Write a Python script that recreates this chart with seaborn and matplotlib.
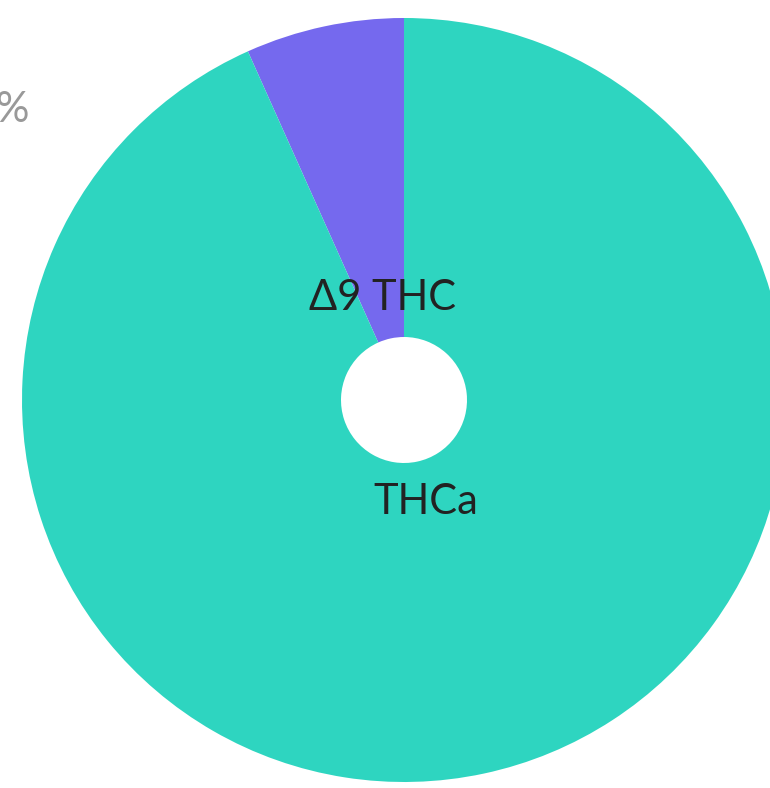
import matplotlib
matplotlib.use("Agg")
import matplotlib.pyplot as plt
import seaborn as sns

sns.set_theme(style="white")
plt.rcParams['font.family'] = ['Lato', 'DejaVu Sans']

categories = ["Δ9 THC", "THCa"]
values = [6.7, 93.3]
colors = ["#7569EE", "#2ED5C0"]

W, H = 770, 788
fig = plt.figure(figsize=(W / 100, H / 100), dpi=100)
cx, cy, R = 404, 388, 382
ax = fig.add_axes([(cx - R) / W, (cy - R) / H, 2 * R / W, 2 * R / H])
wedges, texts = ax.pie(values, labels=categories, colors=colors, startangle=90,
                       counterclock=True, radius=1.0, labeldistance=0.272,
                       wedgeprops=dict(width=1 - 63 / 382, linewidth=0),
                       textprops=dict(fontsize=30, color="#222222"))
for t in texts:
    t.set_ha("center")
    t.set_va("center")
    t.set_clip_on(False)
ax.set_xlim(-1, 1)
ax.set_ylim(-1, 1)
ax.set_aspect("equal")
ax.axis("off")
for w in wedges:
    w.set_clip_on(False)

fig.text(-0.006, (H - 110) / H, "%", fontsize=30, color="#999999", ha="left", va="center")

fig.savefig("out.png", dpi=100)
